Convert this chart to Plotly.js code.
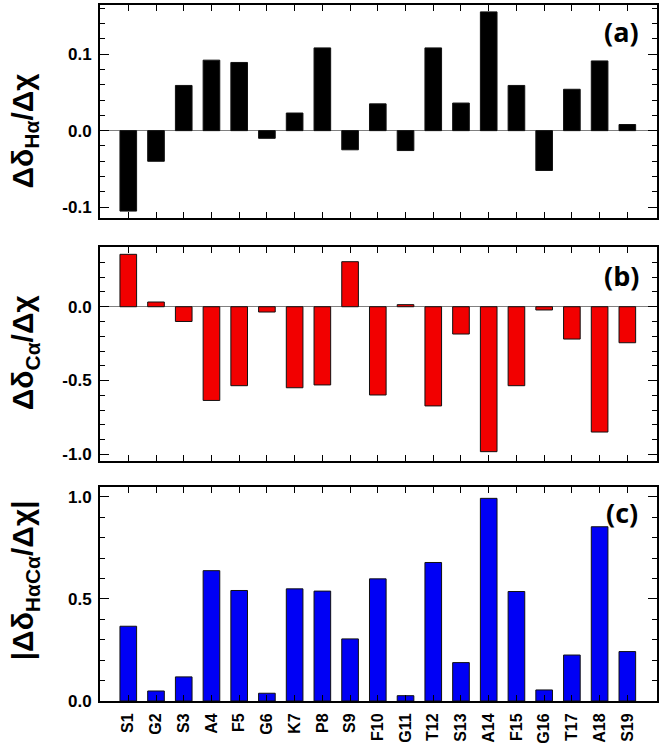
<!DOCTYPE html>
<html><head><meta charset="utf-8">
<script src="https://cdn.plot.ly/plotly-3.0.1.min.js"></script>
<style>html,body{margin:0;padding:0;background:#fff}</style>
</head><body><div id="chart" style="width:664px;height:750px"></div>
<script>
const residues = ["S1","G2","S3","A4","F5","G6","K7","P8","S9","F10","G11","T12","S13","A14","F15","G16","T17","A18","S19"];
const dHa   = [-0.105,-0.040,0.059,0.092,0.089,-0.010,0.023,0.108,-0.025,0.035,-0.026,0.108,0.036,0.155,0.059,-0.052,0.054,0.091,0.008];
const dCa   = [0.355,0.032,-0.100,-0.635,-0.535,-0.036,-0.549,-0.530,0.305,-0.598,0.014,-0.672,-0.185,-0.982,-0.535,-0.022,-0.219,-0.849,-0.244];
const dHaCa = [0.366,0.049,0.118,0.638,0.541,0.038,0.549,0.538,0.304,0.598,0.026,0.678,0.188,0.992,0.536,0.054,0.225,0.853,0.242];
const tickA = [-0.1,0.0,0.1],  tickAText = ["-0.1","0.0","0.1"];
const tickB = [-1.0,-0.5,0.0], tickBText = ["-1.0","-0.5","0.0"];
const tickC = [0.0,0.5,1.0],   tickCText = ["0.0","0.5","1.0"];
const titleA = "Δδ<sub>Hα</sub>/Δχ";
const titleB = "Δδ<sub>Cα</sub>/Δχ";
const titleC = "|Δδ<sub>HαCα</sub>/Δχ|";
const panelLabels = ["(a)","(b)","(c)"];

const FONT = 'Arial, "Liberation Sans", sans-serif';
const tf = {family: FONT, size: 17, color: 'black', weight: 'bold'};

function bar(y, fill, xa, ya){
  return {type:'bar', x: residues, y: y, xaxis: xa, yaxis: ya, width: 0.6,
    marker:{color: fill, line:{color:'#111', width:1}}, hoverinfo:'x+y'};
}
const data = [
  bar(dHa, '#000000', 'x', 'y'),
  bar(dCa, '#f20000', 'x2', 'y2'),
  bar(dHaCa, '#0000f5', 'x3', 'y3')
];
function xax(anchor, labels){
  return {type:'category', range:[-1.02,19.07], anchor: anchor, showline:true, linecolor:'black', linewidth:2,
    mirror:'ticks', ticks:'inside', ticklen:6, tickcolor:'black', showgrid:false, zeroline:false,
    showticklabels: labels, tickangle:-90, ticklabelstandoff: 4,
    tickfont:{family: FONT, size: 16, color:'black', weight:'bold'}};
}
function yax(domain, anchor, range, tv, tt, mdt, zl){
  return {domain: domain, anchor: anchor, range: range, tickmode:'array', tickvals: tv, ticktext: tt,
    showline:true, linecolor:'black', linewidth:2, mirror:'ticks', ticks:'inside', ticklen:9, tickcolor:'black',
    minor:{dtick: mdt, tick0: 0, ticks:'inside', ticklen:5, tickcolor:'black', showgrid:false},
    showgrid:false, zeroline: zl, zerolinecolor:'#808080', zerolinewidth:1.5, tickfont: tf, ticklabelstandoff: 3};
}
const tfont = {family: FONT, size: 30, color:'black', weight:'bold'};
const lfont = {family:'"Open Sans", sans-serif', size:27, color:'black', weight:'bold'};
function plabel(text, y){
  return {text: text, xref:'paper', yref:'paper', x:0.937, y: y, xanchor:'center', yanchor:'middle', showarrow:false, font: lfont};
}
function ytitle(text, yref, y){
  return {text: text, xref:'paper', yref: yref, x:-0.135, y: y, textangle:-90, showarrow:false, font: tfont, xanchor:'center', yanchor:'middle'};
}
const layout = {
  width:664, height:750, margin:{l:100, r:7, t:5, b:49}, showlegend:false,
  paper_bgcolor:'white', plot_bgcolor:'white', bargap:0.4,
  xaxis: xax('y', false), xaxis2: xax('y2', false), xaxis3: xax('y3', true),
  yaxis: yax([0.694,1], 'x', [-0.114,0.164], tickA, tickAText, 0.02, true),
  yaxis2: yax([0.3453,0.6527], 'x2', [-1.043,0.4065], tickB, tickBText, 0.1, true),
  yaxis3: yax([0,0.307], 'x3', [0,1.046], tickC, tickCText, 0.1, false),
  annotations: [
    ytitle(titleA, 'y', 0.0),
    ytitle(titleB, 'y2', -0.31),
    ytitle(titleC, 'y3', 0.59),
    plabel(panelLabels[0], 0.962),
    plabel(panelLabels[1], 0.611),
    plabel(panelLabels[2], 0.271)
  ]
};
Plotly.newPlot('chart', data, layout, {displayModeBar:false, staticPlot:true});
</script></body></html>
